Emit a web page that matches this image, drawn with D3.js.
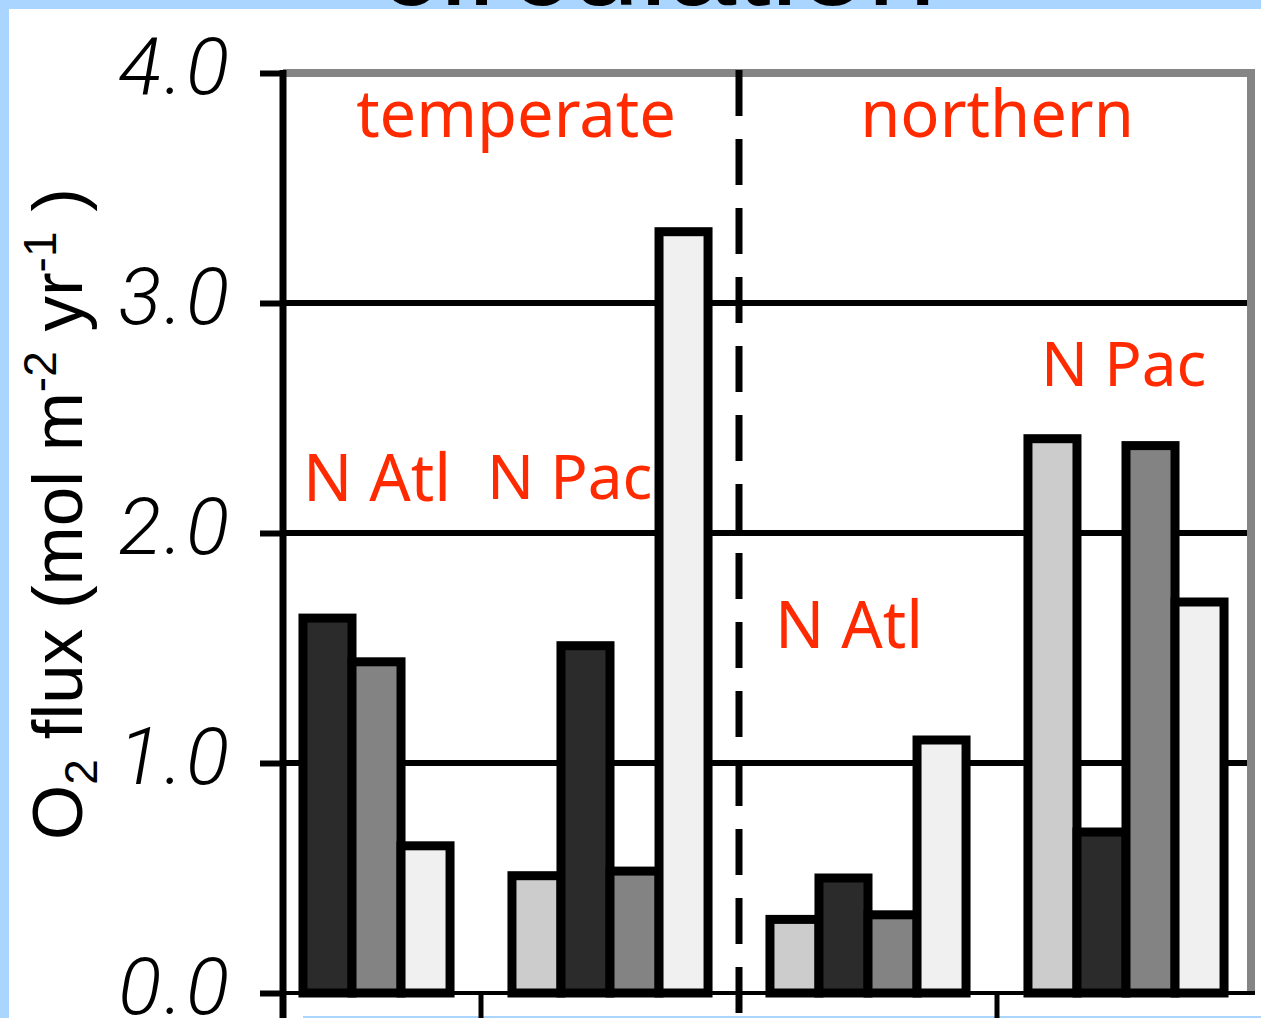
<!DOCTYPE html>
<html>
<head>
<meta charset="utf-8">
<script src="https://cdn.jsdelivr.net/npm/d3@7"></script>
<style>
  html, body { margin: 0; padding: 0; background: #aad5ff; }
  svg { display: block; }
</style>
</head>
<body>
<svg width="1261" height="1018"></svg>
<script>
// groups along the x axis (region + basin)
var groups = ['temperate N Atl', 'temperate N Pac', 'northern N Atl', 'northern N Pac']
// four estimates per group, drawn left to right
var series = ['est1', 'est2', 'est3', 'est4']
var est1 = [null, 0.51, 0.32, 2.41] // light grey
var est2 = [1.63, 1.51, 0.50, 0.70] // near black
var est3 = [1.44, 0.53, 0.34, 2.38] // mid grey
var est4 = [0.64, 3.31, 1.10, 1.70] // very light
var yTicks = [0, 1, 2, 3, 4]

var fills = ['#cccccc', '#2b2b2b', '#838383', '#f0f0f0']
var red = '#ff2a00'

var svg = d3.select('svg')
var width = +svg.attr('width')
var height = +svg.attr('height')

// slide frame: blue border with the title cut off at the top
svg.append('rect').attr('width', width).attr('height', height).attr('fill', '#aad5ff')
svg.append('text')
    .attr('x', 378).attr('y', 5)
    .style('font-family', 'Liberation Sans, Arial, sans-serif')
    .style('font-size', '124px')
    .attr('fill', '#000')
    .text('circulation')
svg.append('rect').attr('x', 9).attr('y', 9).attr('width', width - 9).attr('height', 1007).attr('fill', '#fff')
svg.append('rect').attr('x', 9).attr('y', 1010).attr('width', 294).attr('height', 8).attr('fill', '#fff')

var axisX = 283
var rightX = 1251

var y = d3.scaleLinear().domain([0, 4]).range([993, 73])

var x0 = d3.scaleBand()
    .domain(groups)
    .range([223, 1255])
    .paddingInner(0.24)
    .paddingOuter(0.12)

var x1 = d3.scaleBand()
    .domain(series)
    .range([0, x0.bandwidth()])

var table = groups.map(function (g, i) {
  return { group: g, values: [est1[i], est2[i], est3[i], est4[i]] }
})

// horizontal grid lines
svg.append('g').selectAll('line')
    .data(yTicks.filter(function (t) { return t > 0 && t < 4 }))
  .enter().append('line')
    .attr('x1', axisX).attr('x2', rightX)
    .attr('y1', function (d) { return y(d) })
    .attr('y2', function (d) { return y(d) })
    .attr('stroke', '#000')
    .attr('stroke-width', 6)

// grey frame top and right
svg.append('path')
    .attr('d', 'M' + axisX + ',' + y(4) + 'H' + rightX + 'V' + y(0))
    .attr('fill', 'none')
    .attr('stroke', '#858585')
    .attr('stroke-width', 8)

// baseline
svg.append('line')
    .attr('x1', axisX).attr('x2', rightX + 4)
    .attr('y1', y(0)).attr('y2', y(0))
    .attr('stroke', '#000').attr('stroke-width', 4)

// group separator ticks under the baseline
var step = x0.step()
var bounds = groups.slice(1).map(function (g) { return x0(g) - step * x0.paddingInner() / 2 })
svg.append('g').selectAll('line')
    .data([bounds[0], bounds[2]])
  .enter().append('line')
    .attr('x1', function (d) { return d }).attr('x2', function (d) { return d })
    .attr('y1', y(0)).attr('y2', height)
    .attr('stroke', '#000').attr('stroke-width', 5)

// bars
var groupG = svg.append('g').selectAll('g')
    .data(table)
  .enter().append('g')
    .attr('transform', function (d) { return 'translate(' + x0(d.group) + ',0)' })

groupG.selectAll('rect')
    .data(function (d) {
      return d.values.map(function (v, i) { return { key: series[i], value: v, i: i } })
        .filter(function (e) { return e.value != null })
    })
  .enter().append('rect')
    .attr('x', function (d) { return x1(d.key) })
    .attr('width', x1.bandwidth())
    .attr('y', function (d) { return y(d.value) })
    .attr('height', function (d) { return y(0) - y(d.value) })
    .attr('fill', function (d) { return fills[d.i] })
    .attr('stroke', '#000')
    .attr('stroke-width', 9)

// dashed divider between temperate and northern
svg.append('line')
    .attr('x1', bounds[1]).attr('x2', bounds[1])
    .attr('y1', 70).attr('y2', height)
    .attr('stroke', '#000')
    .attr('stroke-width', 7)
    .attr('stroke-dasharray', '46,23')

// y axis
var yAxis = d3.axisLeft(y)
    .tickValues(yTicks)
    .tickFormat(d3.format('.1f'))
    .tickSize(23)
    .tickPadding(28)

var ya = svg.append('g')
    .attr('transform', 'translate(' + axisX + ',0)')
    .call(yAxis)
ya.select('.domain').remove()
ya.selectAll('.tick line').attr('stroke', '#000').attr('stroke-width', 6)
ya.selectAll('.tick text')
    .attr('dy', '0.25em')
    .style('font-family', 'Roboto, Liberation Sans, sans-serif')
    .style('font-weight', 300)
    .style('font-style', 'italic')
    .style('font-size', '80px')
    .style('letter-spacing', '3px')
    .attr('fill', '#000')
svg.append('line')
    .attr('x1', axisX).attr('x2', axisX)
    .attr('y1', y(4) - 3).attr('y2', height)
    .attr('stroke', '#000').attr('stroke-width', 7)

// y axis title
var yt = svg.append('text')
    .attr('transform', 'translate(82,' + 514 + ') rotate(-90)')
    .attr('text-anchor', 'middle')
    .style('font-family', 'Liberation Sans, Arial, sans-serif')
    .style('font-size', '71px')
    .attr('fill', '#000')
yt.append('tspan').text('O')
yt.append('tspan').attr('dy', 15).style('font-size', '46px').text('2')
yt.append('tspan').attr('dy', -15).text(' flux (mol m')
yt.append('tspan').attr('dy', -26).style('font-size', '46px').text('-2')
yt.append('tspan').attr('dy', 26).text(' yr')
yt.append('tspan').attr('dy', -26).style('font-size', '46px').text('-1')
yt.append('tspan').attr('dy', 26).text(' )')

// red annotations
var mid = bounds[1]
var labels = [
  { text: 'temperate', x: (axisX + mid) / 2 + 5, v: 3.72, anchor: 'middle' },
  { text: 'northern', x: (mid + rightX) / 2 + 2, v: 3.72, anchor: 'middle' },
  { text: 'N Atl', x: x0(groups[0]) + 49, v: 2.14, anchor: 'start' },
  { text: 'N Pac', x: x0(groups[1]) - 25, v: 2.15, anchor: 'start' },
  { text: 'N Atl', x: x0(groups[2]) + 5, v: 1.5, anchor: 'start' },
  { text: 'N Pac', x: x0(groups[3]) + 13, v: 2.64, anchor: 'start' }
]
svg.append('g').selectAll('text')
    .data(labels)
  .enter().append('text')
    .attr('x', function (d) { return d.x })
    .attr('y', function (d) { return y(d.v) })
    .attr('text-anchor', function (d) { return d.anchor })
    .style('font-family', 'Noto Sans, Open Sans, sans-serif')
    .style('font-size', function (d) { return d.text === 'N Pac' ? '62px' : '65px' })
    .attr('fill', red)
    .text(function (d) { return d.text })
</script>
</body>
</html>
